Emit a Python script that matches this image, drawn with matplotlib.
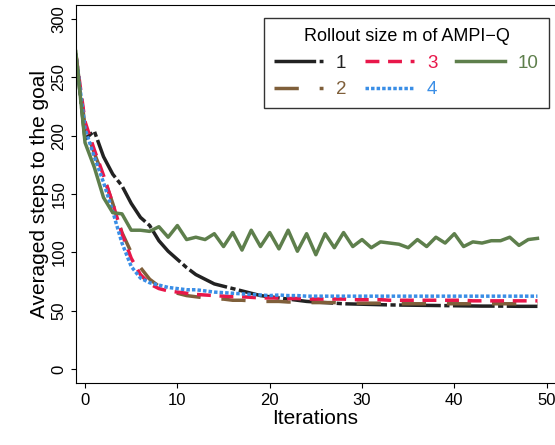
import matplotlib
matplotlib.use("Agg")
import matplotlib.pyplot as plt
import numpy as np

plt.rcParams['font.family'] = ['Liberation Sans', 'DejaVu Sans']

iterations = list(range(-1, 50))
m1 = [270, 197, 204, 182, 167, 157, 142, 130, 123, 110, 101, 94, 87, 81, 77, 73, 71, 69, 67, 65, 63, 62, 61, 60, 59, 58,
      57.5, 57, 56.5, 56, 55.8, 55.6, 55.4, 55.2, 55, 54.9, 54.8, 54.7, 54.6, 54.5, 54.4, 54.3, 54.2, 54.1, 54, 54, 54, 53.9, 53.8, 53.8, 53.8]
m2 = [270, 208, 185, 165, 142, 117, 100, 87, 77, 71, 67, 65, 63, 62, 61, 60, 60, 59, 59, 58.5, 58, 58, 58, 57.5, 57.5, 57,
      57, 57, 57, 56.5, 56.5, 56.5, 56.5, 56.5, 56.5, 56, 56, 56, 56, 56, 56, 56, 56, 56, 56, 56, 56, 56, 56, 56, 56]
m3 = [270, 212, 188, 166, 142, 116, 95, 81, 73, 69, 67, 66, 65, 64, 63.5, 63, 62.5, 62, 62, 61.5, 61, 61, 61, 60.5, 60.5,
      60, 60, 60, 60, 60, 59.5, 59.5, 59.5, 59.5, 59, 59, 59, 59, 59, 59, 59, 59, 59, 58.5, 58.5, 58.5, 58.5, 58.5, 58.5, 58.5, 58.5]
m4 = [270, 206, 182, 160, 135, 108, 88, 78, 74, 72, 70, 69, 68, 68, 67, 66, 65.5, 65, 64.5, 64, 63.5, 63, 63.5, 63, 63,
      62.5, 62.5, 62.5, 62.5, 62.5, 62.5, 62.5, 62.5, 62.5, 62.5, 62.5, 62.5, 62.5, 62.5, 62.5, 62.5, 62.5, 62.5, 62.5, 62.5, 62.5, 62.5, 62.5, 62.5, 62.5, 62.5]
m10 = [272, 194, 173, 147, 134, 133, 119, 119, 118, 122, 113, 123, 111, 113, 111, 116, 105, 117, 102, 119, 105, 117, 103,
       119, 101, 116, 98, 116, 104, 117, 105, 111, 104, 109, 108, 107, 104, 111, 105, 113, 108, 116, 105, 109, 108, 110, 110, 113, 106, 111, 112]

series = [
    ("1", m1, "#222222", (0, (12, 1.0, 1.5, 1.0)), 2.5),
    ("2", m2, "#7f5f3a", (0, (7, 6)), 2.5),
    ("3", m3, "#e8174a", (0, (4, 2.5)), 2.5),
    ("4", m4, "#3a8ee6", (0, (1, 0.6)), 2.5),
    ("10", m10, "#5e7f4c", "-", 2.5),
]

fig = plt.figure(figsize=(5.55, 4.45), dpi=100)
ax = fig.add_axes([0.137, 0.139, 0.863, 0.85])
for lab, y, c, ls, lw in series:
    ax.plot(iterations, y, color=c, linestyle=ls, linewidth=lw, label=lab)

ax.set_xlim(-0.975, 50.9)
ax.set_ylim(-12, 312)
ax.set_xticks([0, 10, 20, 30, 40, 50])
ax.set_yticks([0, 50, 100, 150, 200, 250, 300])
ax.tick_params(axis='y', labelrotation=90)
for t in ax.get_yticklabels():
    t.set_va('center')
ax.tick_params(labelsize=12)
ax.spines['right'].set_visible(False)
ax.set_xlabel("Iterations", fontsize=15, labelpad=1)
ax.set_ylabel("Averaged steps to the goal", fontsize=15, labelpad=2)

leg = ax.legend(title="Rollout size m of AMPI\u2212Q", ncol=3, loc='upper right',
                bbox_to_anchor=(0.988, 0.966), borderaxespad=0, fontsize=13.5, title_fontsize=13,
                frameon=True, fancybox=False, edgecolor='black', handlelength=2.6,
                columnspacing=1.0, borderpad=0.55, handletextpad=0.7)
leg.get_frame().set_linewidth(1.0)
for t, s in zip(leg.get_texts(), series):
    t.set_color(s[2])
fig.savefig("out.png", dpi=100)
